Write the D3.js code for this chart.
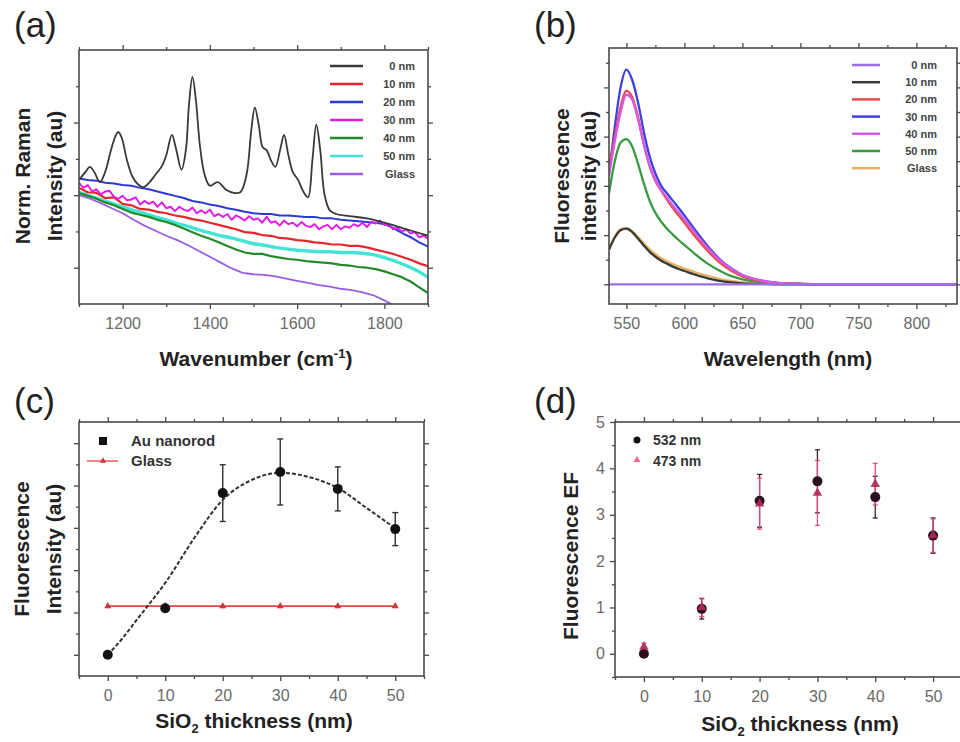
<!DOCTYPE html>
<html><head><meta charset="utf-8">
<script src="https://cdn.jsdelivr.net/npm/d3@7"></script>
<style>body{margin:0;background:#fff;} svg{display:block;font-family:"Liberation Sans",Arial,Helvetica,sans-serif;}</style>
</head><body><svg id="chart" width="960" height="742"></svg>
<script>
// ---------------- DATA ----------------
// (a) Raman spectra: [wavenumber, normalised intensity]
const ramanLabels = ["0 nm","10 nm","20 nm","30 nm","40 nm","50 nm","Glass"];
const raman0nm = [[1100,1.71],[1115,1.82],[1125,1.89],[1135,1.82],[1148,1.68],[1160,1.82],[1172,2.09],[1182,2.29],[1190,2.37],[1198,2.29],[1210,1.98],[1222,1.76],[1235,1.65],[1248,1.61],[1262,1.68],[1275,1.78],[1290,1.90],[1300,2.05],[1313,2.33],[1322,2.15],[1335,1.85],[1345,2.12],[1352,2.74],[1360,3.13],[1368,2.81],[1377,2.19],[1388,1.78],[1400,1.63],[1418,1.68],[1438,1.57],[1455,1.53],[1470,1.54],[1484,1.78],[1495,2.40],[1503,2.71],[1512,2.47],[1521,2.16],[1530,2.12],[1540,1.98],[1550,1.89],[1562,2.15],[1570,2.33],[1580,2.05],[1590,1.82],[1602,1.71],[1615,1.54],[1625,1.47],[1635,1.98],[1644,2.47],[1653,2.12],[1663,1.50],[1675,1.29],[1690,1.24],[1720,1.21],[1760,1.18],[1800,1.12],[1840,1.05],[1900,0.94]];
const raman10nm = [[1100,1.60],[1120,1.54],[1140,1.53],[1160,1.46],[1180,1.47],[1200,1.38],[1220,1.36],[1240,1.31],[1260,1.30],[1280,1.27],[1300,1.25],[1320,1.22],[1340,1.20],[1360,1.17],[1380,1.15],[1400,1.12],[1420,1.09],[1440,1.06],[1460,1.03],[1480,0.99],[1500,0.98],[1520,0.95],[1540,0.94],[1560,0.91],[1580,0.90],[1600,0.88],[1620,0.87],[1640,0.85],[1660,0.84],[1680,0.82],[1700,0.82],[1720,0.80],[1740,0.80],[1760,0.78],[1780,0.75],[1800,0.72],[1820,0.69],[1840,0.65],[1860,0.61],[1880,0.56],[1900,0.52]];
const raman20nm = [[1100,1.73],[1120,1.71],[1140,1.70],[1160,1.67],[1180,1.66],[1200,1.64],[1220,1.63],[1240,1.60],[1260,1.58],[1280,1.55],[1300,1.52],[1320,1.49],[1340,1.46],[1360,1.42],[1380,1.40],[1400,1.37],[1420,1.35],[1440,1.32],[1460,1.30],[1480,1.27],[1500,1.25],[1520,1.24],[1540,1.24],[1560,1.22],[1580,1.22],[1600,1.21],[1620,1.20],[1640,1.20],[1660,1.18],[1680,1.18],[1700,1.16],[1720,1.15],[1740,1.14],[1760,1.13],[1780,1.12],[1800,1.10],[1820,1.05],[1840,0.98],[1860,0.92],[1880,0.85],[1900,0.79]];
const raman30nm = [[1100,1.67],[1110,1.60],[1120,1.64],[1130,1.55],[1140,1.58],[1150,1.51],[1160,1.55],[1170,1.56],[1180,1.48],[1190,1.45],[1200,1.49],[1210,1.43],[1220,1.44],[1230,1.47],[1240,1.37],[1250,1.42],[1260,1.38],[1270,1.41],[1280,1.34],[1290,1.40],[1300,1.32],[1310,1.34],[1320,1.28],[1330,1.34],[1340,1.30],[1350,1.28],[1360,1.33],[1370,1.25],[1380,1.29],[1390,1.25],[1400,1.30],[1410,1.21],[1420,1.24],[1430,1.20],[1440,1.24],[1450,1.16],[1460,1.22],[1470,1.19],[1480,1.15],[1490,1.21],[1500,1.16],[1510,1.18],[1520,1.12],[1530,1.20],[1540,1.12],[1550,1.14],[1560,1.08],[1570,1.15],[1580,1.10],[1590,1.12],[1600,1.07],[1610,1.13],[1620,1.08],[1630,1.06],[1640,1.10],[1650,1.03],[1660,1.07],[1670,1.09],[1680,1.03],[1690,1.09],[1700,1.03],[1710,1.07],[1720,1.05],[1730,1.10],[1740,1.07],[1750,1.12],[1760,1.06],[1770,1.13],[1780,1.11],[1790,1.15],[1800,1.09],[1810,1.10],[1820,1.03],[1830,1.05],[1840,1.00],[1850,1.03],[1860,0.97],[1870,0.99],[1880,0.92],[1890,0.94],[1900,0.90]];
const raman40nm = [[1100,1.53],[1120,1.49],[1140,1.45],[1160,1.40],[1180,1.36],[1200,1.31],[1220,1.26],[1240,1.23],[1260,1.20],[1280,1.16],[1300,1.13],[1320,1.09],[1340,1.04],[1360,0.99],[1380,0.94],[1400,0.90],[1420,0.85],[1440,0.80],[1460,0.75],[1480,0.71],[1500,0.69],[1520,0.69],[1540,0.66],[1560,0.64],[1580,0.62],[1600,0.61],[1620,0.59],[1640,0.58],[1660,0.57],[1680,0.56],[1700,0.54],[1720,0.53],[1740,0.51],[1760,0.50],[1780,0.48],[1800,0.45],[1820,0.41],[1840,0.37],[1860,0.31],[1880,0.23],[1900,0.15]];
const raman50nm = [[1100,1.54],[1125,1.49],[1150,1.44],[1175,1.39],[1200,1.34],[1225,1.29],[1250,1.25],[1275,1.20],[1300,1.16],[1325,1.11],[1350,1.07],[1375,1.02],[1400,0.98],[1425,0.94],[1450,0.91],[1475,0.87],[1500,0.83],[1525,0.81],[1550,0.78],[1575,0.76],[1600,0.74],[1625,0.73],[1650,0.72],[1675,0.72],[1700,0.71],[1725,0.71],[1750,0.70],[1775,0.68],[1800,0.64],[1825,0.59],[1850,0.53],[1875,0.46],[1900,0.37]];
const ramanGlass = [[1100,1.50],[1125,1.45],[1150,1.39],[1175,1.32],[1200,1.25],[1225,1.16],[1250,1.08],[1275,1.01],[1300,0.94],[1325,0.88],[1350,0.81],[1375,0.73],[1400,0.65],[1425,0.57],[1450,0.49],[1475,0.43],[1500,0.41],[1525,0.40],[1550,0.38],[1575,0.35],[1600,0.32],[1625,0.29],[1650,0.26],[1675,0.24],[1700,0.21],[1725,0.19],[1750,0.16],[1775,0.12],[1800,0.05],[1825,-0.03],[1850,-0.10]];
const ramanXTicks = [1200,1400,1600,1800];

// (b) Fluorescence spectra
const flLabels = ["0 nm","10 nm","20 nm","30 nm","40 nm","50 nm","Glass"];
const flWavelength = [535,540,545,550,555,560,565,570,575,580,585,590,595,600,610,620,630,640,650,660,670,680,700,720,760,800,835];
const fl0nm   = [0,0,0,0,0,0,0,0,0,0,0,0,0,0,0,0,0,0,0,0,0,0,0,0,0,0,0];
const fl10nm  = [0.70,0.95,1.10,1.13,1.06,0.93,0.79,0.66,0.56,0.48,0.42,0.36,0.31,0.27,0.19,0.12,0.07,0.04,0.02,0.01,0.01,0,0,0,0,0,0];
const fl20nm  = [2.35,3.00,3.60,3.93,3.80,3.40,2.85,2.40,2.10,1.90,1.72,1.55,1.40,1.25,0.95,0.68,0.45,0.28,0.16,0.09,0.05,0.03,0.01,0,0,0,0];
const fl30nm  = [2.26,3.20,4.00,4.36,4.15,3.70,3.10,2.60,2.25,2.00,1.85,1.70,1.55,1.40,1.08,0.78,0.52,0.33,0.19,0.11,0.06,0.03,0.01,0,0,0,0];
const fl40nm  = [2.20,2.90,3.50,3.85,3.75,3.35,2.85,2.42,2.12,1.92,1.76,1.60,1.46,1.32,1.02,0.74,0.50,0.32,0.19,0.11,0.06,0.03,0.01,0,0,0,0];
const fl50nm  = [1.85,2.50,2.88,2.95,2.80,2.45,2.05,1.70,1.45,1.27,1.13,1.01,0.90,0.80,0.60,0.42,0.28,0.17,0.10,0.06,0.03,0.02,0.01,0,0,0,0];
const flGlass = [0.72,0.97,1.12,1.14,1.08,0.96,0.83,0.71,0.61,0.53,0.47,0.41,0.36,0.32,0.24,0.17,0.11,0.07,0.04,0.02,0.01,0.01,0,0,0,0,0];
const flXTicks = [550,600,650,700,750,800];

// (c) Fluorescence intensity vs SiO2 thickness
const thickness = [0,10,20,30,40,50];
const auIntensity = [0,1.10,3.82,4.32,3.92,2.97];
const auError = [0.04,0.06,0.67,0.78,0.52,0.39];
const glassIntensity = [1.15,1.15,1.15,1.15,1.15,1.15];
const glassError = [0.05,0.05,0.05,0.05,0.05,0.05];
const fitThickness = [0,2.5,5,7.5,10,15,20,25,30,35,40,45,50];
const fitIntensity = [0,0.38,0.82,1.25,1.70,2.75,3.66,4.13,4.30,4.20,3.94,3.47,2.99];
const cLabels = ["Au nanorod","Glass"];

// (d) Fluorescence EF
const ef532 = [0,0.97,3.30,3.72,3.38,2.55];
const ef532Err = [0.06,0.22,0.57,0.68,0.45,0.38];
const ef473 = [0.15,1.00,3.24,3.47,3.66,2.55];
const ef473Err = [0.08,0.20,0.55,0.70,0.45,0.36];
const dLabels = ["532 nm","473 nm"];
const efYTicks = [0,1,2,3,4,5];

// ---------------- DRAWING ----------------
const svg = d3.select("#chart");
const frameColor = "#4a4a4a";
const tickLabelColor = "#6a6a6a";
const titleColor = "#222";

function makeFrame(box, x, y, spec) {
  const g = svg.append("g");
  const put = (axis, tr) => {
    const a = g.append("g").attr("transform", tr).call(axis);
    a.select(".domain").remove();
    a.selectAll("line").attr("stroke", frameColor).attr("stroke-width", 1.3);
    a.selectAll("text").attr("fill", tickLabelColor).style("font-size", "16px")
      .style("font-family", '"Liberation Sans", Arial, sans-serif');
    return a;
  };
  const none = () => "";
  put(d3.axisBottom(x).tickValues(spec.xMin).tickSize(3).tickFormat(none), `translate(0,${box.b})`);
  put(d3.axisTop(x).tickValues(spec.xMin).tickSize(3).tickFormat(none), `translate(0,${box.t})`);
  put(d3.axisLeft(y).tickValues(spec.yMin).tickSize(3).tickFormat(none), `translate(${box.l},0)`);
  put(d3.axisRight(y).tickValues(spec.yMin).tickSize(3).tickFormat(none), `translate(${box.r},0)`);
  put(d3.axisBottom(x).tickValues(spec.xMaj).tickSize(5).tickPadding(9).tickFormat(spec.xFmt || none), `translate(0,${box.b})`);
  put(d3.axisTop(x).tickValues(spec.xMaj).tickSize(5).tickFormat(none), `translate(0,${box.t})`);
  put(d3.axisLeft(y).tickValues(spec.yMaj).tickSize(5).tickPadding(5).tickFormat(spec.yFmt || none), `translate(${box.l},0)`);
  put(d3.axisRight(y).tickValues(spec.yMaj).tickSize(5).tickFormat(none), `translate(${box.r},0)`);
  g.append("rect").attr("x", box.l).attr("y", box.t).attr("width", box.r - box.l).attr("height", box.b - box.t)
    .attr("fill", "none").attr("stroke", frameColor).attr("stroke-width", 1.6);
}

function clip(id, box) {
  svg.append("clipPath").attr("id", id).append("rect")
    .attr("x", box.l).attr("y", box.t).attr("width", box.r - box.l).attr("height", box.b - box.t);
}

function panelLabel(txt, px, py) {
  svg.append("text").attr("x", px).attr("y", py).text(txt)
    .style("font-size", "35px").attr("fill", "#222");
}

function rotTitle(lines, cx, cy, size) {
  lines.forEach(l => {
    svg.append("text").attr("transform", `translate(${l.x},${cy}) rotate(-90)`)
      .attr("text-anchor", "middle").style("font-size", size + "px").style("font-weight", "bold")
      .attr("fill", titleColor).text(l.t);
  });
}

// ===== Panel (a) =====
const boxA = {l: 79, r: 428, t: 50, b: 304};
const xA = d3.scaleLinear().domain([1100, 1900]).range([boxA.l, boxA.r]);
const yA = d3.scaleLinear().domain([0, 3.5]).range([boxA.b, boxA.t]);
clip("clipA", boxA);
const ramanData = [raman0nm, raman10nm, raman20nm, raman30nm, raman40nm, raman50nm, ramanGlass];
const ramanColors = ["#3a3a3a", "#e8262a", "#2a3ad8", "#e020e6", "#238a2a", "#44e4d4", "#9b5de5"];
const ramanWidths = [1.8, 2.2, 2.0, 2.0, 2.2, 3.4, 1.8];
const drawOrderA = [6, 5, 4, 1, 2, 3, 0];
const lineA = d3.line().x(d => xA(d[0])).y(d => yA(d[1]));
const lineA0 = d3.line().x(d => xA(d[0])).y(d => yA(d[1])).curve(d3.curveCatmullRom.alpha(0.5));
const gA = svg.append("g").attr("clip-path", "url(#clipA)");
drawOrderA.forEach(i => {
  gA.append("path").datum(ramanData[i]).attr("d", i === 0 ? lineA0 : lineA)
    .attr("fill", "none").attr("stroke", ramanColors[i]).attr("stroke-width", ramanWidths[i])
    .attr("stroke-linejoin", "round");
});
makeFrame(boxA, xA, yA, {
  xMaj: ramanXTicks, xMin: [1100, 1300, 1500, 1700, 1900],
  yMaj: [0.5, 1.5, 2.5], yMin: [1, 2, 3], xFmt: d3.format("d")
});
ramanLabels.forEach((lab, i) => {
  const yy = 66 + i * 18;
  svg.append("line").attr("x1", 330).attr("x2", 363).attr("y1", yy).attr("y2", yy)
    .attr("stroke", ramanColors[i]).attr("stroke-width", 2.5);
  svg.append("text").attr("x", 415).attr("y", yy + 4).attr("text-anchor", "end")
    .style("font-size", "11px").style("font-weight", "bold").attr("fill", "#444").text(lab);
});
panelLabel("(a)", 14, 37);
{
  const t = svg.append("text").attr("x", 256).attr("y", 366).attr("text-anchor", "middle")
    .style("font-size", "21px").style("font-weight", "bold").attr("fill", titleColor);
  t.append("tspan").text("Wavenumber (cm");
  t.append("tspan").attr("dy", -8).style("font-size", "13px").text("-1");
  t.append("tspan").attr("dy", 8).text(")");
}
rotTitle([{t: "Norm. Raman", x: 30}, {t: "Intensity (au)", x: 62}], 0, 176, 21);

// ===== Panel (b) =====
const boxB = {l: 609, r: 957, t: 48, b: 304};
const xB = d3.scaleLinear().domain([535, 835]).range([boxB.l, boxB.r]);
const yB = d3.scaleLinear().domain([-0.4, 4.8]).range([boxB.b, boxB.t]);
clip("clipB", boxB);
const flData = [fl0nm, fl10nm, fl20nm, fl30nm, fl40nm, fl50nm, flGlass];
const flColors = ["#9a70e0", "#3a3a3a", "#ee4848", "#4040e0", "#d45ae8", "#3a9a40", "#e8b060"];
const drawOrderB = [6, 1, 5, 3, 2, 4, 0];
const lineB = d3.line().x((d, i) => xB(flWavelength[i])).y(d => yB(d)).curve(d3.curveMonotoneX);
const gB = svg.append("g").attr("clip-path", "url(#clipB)");
drawOrderB.forEach(i => {
  gB.append("path").datum(flData[i]).attr("d", lineB)
    .attr("fill", "none").attr("stroke", flColors[i]).attr("stroke-width", 2.3);
});
makeFrame(boxB, xB, yB, {
  xMaj: flXTicks, xMin: [575, 625, 675, 725, 775, 825],
  yMaj: [0, 1, 2, 3, 4], yMin: [0.5, 1.5, 2.5, 3.5, 4.5], xFmt: d3.format("d")
});
flLabels.forEach((lab, i) => {
  const yy = 65 + i * 17.2;
  svg.append("line").attr("x1", 852).attr("x2", 880).attr("y1", yy).attr("y2", yy)
    .attr("stroke", flColors[i]).attr("stroke-width", 2.5);
  svg.append("text").attr("x", 937).attr("y", yy + 4).attr("text-anchor", "end")
    .style("font-size", "11px").style("font-weight", "bold").attr("fill", "#444").text(lab);
});
panelLabel("(b)", 534, 37);
svg.append("text").attr("x", 788).attr("y", 366).attr("text-anchor", "middle")
  .style("font-size", "21px").style("font-weight", "bold").attr("fill", titleColor).text("Wavelength (nm)");
rotTitle([{t: "Fluorescence", x: 569}, {t: "intensity (au)", x: 596}], 0, 176, 21);

// ===== Panel (c) =====
const boxC = {l: 79, r: 424, t: 422, b: 676};
const xC = d3.scaleLinear().domain([-5, 55]).range([boxC.l, boxC.r]);
const yC = d3.scaleLinear().domain([-0.5, 5.5]).range([boxC.b, boxC.t]);
makeFrame(boxC, xC, yC, {
  xMaj: thickness, xMin: [-5, 5, 15, 25, 35, 45, 55],
  yMaj: [0, 1, 2, 3, 4, 5], yMin: [0.5, 1.5, 2.5, 3.5, 4.5], xFmt: d3.format("d")
});
const gC = svg.append("g");
gC.append("path").datum(glassIntensity)
  .attr("d", d3.line().x((d, i) => xC(thickness[i])).y(d => yC(d)))
  .attr("fill", "none").attr("stroke", "#e84040").attr("stroke-width", 1.6);
glassIntensity.forEach((v, i) => {
  const cx = xC(thickness[i]);
  gC.append("line").attr("x1", cx).attr("x2", cx).attr("y1", yC(v - glassError[i])).attr("y2", yC(v + glassError[i]))
    .attr("stroke", "#d03030").attr("stroke-width", 1.5);
  gC.append("path").attr("d", d3.symbol(d3.symbolTriangle, 22)()).attr("transform", `translate(${cx},${yC(v)})`)
    .attr("fill", "#c83a3a");
});
gC.append("path").datum(fitIntensity)
  .attr("d", d3.line().x((d, i) => xC(fitThickness[i])).y(d => yC(d)).curve(d3.curveMonotoneX))
  .attr("fill", "none").attr("stroke", "#333").attr("stroke-width", 2).attr("stroke-dasharray", "4,2");
auIntensity.forEach((v, i) => {
  const cx = xC(thickness[i]);
  gC.append("line").attr("x1", cx).attr("x2", cx).attr("y1", yC(v - auError[i])).attr("y2", yC(v + auError[i]))
    .attr("stroke", "#333").attr("stroke-width", 1.4);
  [v - auError[i], v + auError[i]].forEach(e => gC.append("line").attr("x1", cx - 3).attr("x2", cx + 3)
    .attr("y1", yC(e)).attr("y2", yC(e)).attr("stroke", "#333").attr("stroke-width", 1.4));
  gC.append("circle").attr("cx", cx).attr("cy", yC(v)).attr("r", 5).attr("fill", "#111");
});
svg.append("rect").attr("x", 99).attr("y", 437).attr("width", 8).attr("height", 8).attr("fill", "#111");
svg.append("line").attr("x1", 87).attr("x2", 118).attr("y1", 461).attr("y2", 461).attr("stroke", "#e86060").attr("stroke-width", 1.5);
svg.append("path").attr("d", d3.symbol(d3.symbolTriangle, 18)()).attr("transform", "translate(103,461)").attr("fill", "#c83a3a");
cLabels.forEach((lab, i) => {
  svg.append("text").attr("x", 131).attr("y", 446 + i * 20).style("font-size", "15px").style("font-weight", "bold")
    .attr("fill", "#333").text(lab);
});
panelLabel("(c)", 14, 413);
{
  const t = svg.append("text").attr("x", 254).attr("y", 728).attr("text-anchor", "middle")
    .style("font-size", "21px").style("font-weight", "bold").attr("fill", titleColor);
  t.append("tspan").text("SiO");
  t.append("tspan").attr("dy", 5).style("font-size", "13px").text("2");
  t.append("tspan").attr("dy", -5).text(" thickness (nm)");
}
rotTitle([{t: "Fluorescence", x: 29}, {t: "Intensity (au)", x: 61}], 0, 549, 21);

// ===== Panel (d) =====
const boxD = {l: 615, r: 962, t: 422, b: 677};
const xD = d3.scaleLinear().domain([-5, 55]).range([boxD.l, boxD.r]);
const yD = d3.scaleLinear().domain([-0.5, 5]).range([boxD.b, boxD.t]);
makeFrame(boxD, xD, yD, {
  xMaj: thickness, xMin: [-5, 5, 15, 25, 35, 45, 55],
  yMaj: efYTicks, yMin: [-0.5, 0.5, 1.5, 2.5, 3.5, 4.5], xFmt: d3.format("d"), yFmt: d3.format("d")
});
const gD = svg.append("g");
const pink = "#e0457a";
ef532.forEach((v, i) => {
  const cx = xD(thickness[i]);
  gD.append("line").attr("x1", cx).attr("x2", cx).attr("y1", yD(v - ef532Err[i])).attr("y2", yD(v + ef532Err[i]))
    .attr("stroke", "#3a2030").attr("stroke-width", 1.3);
  [v - ef532Err[i], v + ef532Err[i]].forEach(e => gD.append("line").attr("x1", cx - 2.5).attr("x2", cx + 2.5)
    .attr("y1", yD(e)).attr("y2", yD(e)).attr("stroke", "#3a2030").attr("stroke-width", 1.3));
});
ef473.forEach((v, i) => {
  const cx = xD(thickness[i]);
  gD.append("line").attr("x1", cx).attr("x2", cx).attr("y1", yD(v - ef473Err[i])).attr("y2", yD(v + ef473Err[i]))
    .attr("stroke", pink).attr("stroke-width", 1.2);
  [v - ef473Err[i], v + ef473Err[i]].forEach(e => gD.append("line").attr("x1", cx - 2.5).attr("x2", cx + 2.5)
    .attr("y1", yD(e)).attr("y2", yD(e)).attr("stroke", pink).attr("stroke-width", 1.2));
});
ef532.forEach((v, i) => {
  gD.append("circle").attr("cx", xD(thickness[i])).attr("cy", yD(v)).attr("r", 5).attr("fill", "#2a1020");
});
ef473.forEach((v, i) => {
  gD.append("path").attr("d", d3.symbol(d3.symbolTriangle, 40)()).attr("transform", `translate(${xD(thickness[i])},${yD(v)})`)
    .attr("fill", "#b02858").attr("opacity", 0.9);
});
svg.append("circle").attr("cx", 637).attr("cy", 440).attr("r", 3.5).attr("fill", "#111");
svg.append("path").attr("d", d3.symbol(d3.symbolTriangle, 22)()).attr("transform", "translate(637,460)").attr("fill", "#f06a90");
dLabels.forEach((lab, i) => {
  svg.append("text").attr("x", 653).attr("y", 445 + i * 20.5).style("font-size", "14px").style("font-weight", "bold")
    .attr("fill", "#333").text(lab);
});
panelLabel("(d)", 534, 413);
{
  const t = svg.append("text").attr("x", 800).attr("y", 731).attr("text-anchor", "middle")
    .style("font-size", "21px").style("font-weight", "bold").attr("fill", titleColor);
  t.append("tspan").text("SiO");
  t.append("tspan").attr("dy", 5).style("font-size", "13px").text("2");
  t.append("tspan").attr("dy", -5).text(" thickness (nm)");
}
rotTitle([{t: "Fluorescence EF", x: 578}], 0, 556, 21);
</script></body></html>
